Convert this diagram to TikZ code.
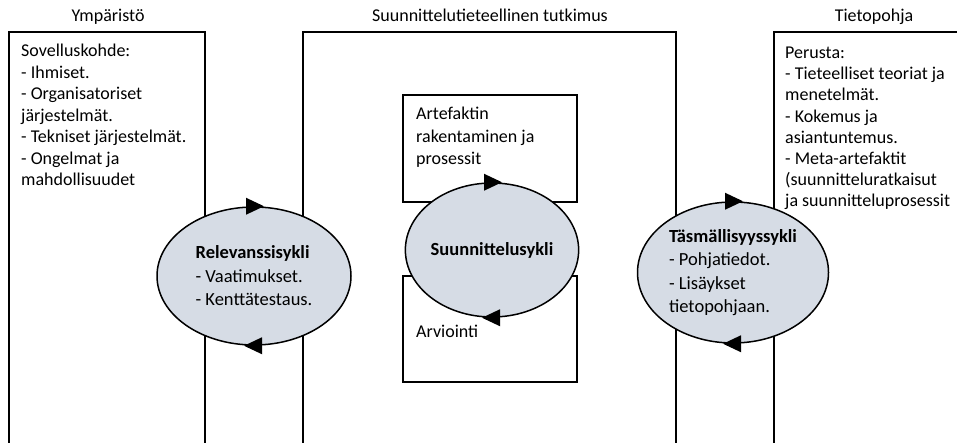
\documentclass[tikz,border=0pt]{standalone}
\usepackage{fontspec}
\setmainfont{Carlito}
\usetikzlibrary{shapes.geometric}
\definecolor{cyclefill}{HTML}{D6DCE5}
\begin{document}
\begin{tikzpicture}[x=1pt,y=-1pt,
  frame/.style={line width=2pt},
  txt/.style={inner sep=0pt, align=left, anchor=base west, font=\fontsize{18}{21.5}\selectfont},
  title/.style={inner sep=0pt, anchor=base, font=\fontsize{18}{21.5}\selectfont},
  cyc/.style={ellipse, draw, line width=1.5pt, fill=cyclefill, inner sep=0pt, align=left, font=\fontsize{18.5}{23.5}\selectfont},
  inbox/.style={draw, line width=2pt, inner sep=0pt},
  tipfill/.style={fill=black}
]
\useasboundingbox (0,0) rectangle (957,443);
% outer open frames
\draw[frame] (9,444) -- (9,32) -- (205,32) -- (205,444);
\draw[frame] (303,444) -- (303,32) -- (676,32) -- (676,444);
\draw[frame] (774,444) -- (774,32) -- (958,32);
% titles
\node[title] (t1) at (108,22) {Ympäristö};
\node[title] (t2) at (490,22) {Suunnittelutieteellinen tutkimus};
\node[title] (t3) at (874,22) {Tietopohja};
% box texts (base anchor = last line)
\node[txt] (lefttxt) at (21,186) {Sovelluskohde:\\- Ihmiset.\\- Organisatoriset\\järjestelmät.\\- Tekniset järjestelmät.\\- Ongelmat ja\\mahdollisuudet};
\node[txt, font=\fontsize{18}{21.2}\selectfont] (righttxt) at (785,207) {Perusta:\\- Tieteelliset teoriat ja\\menetelmät.\\- Kokemus ja\\asiantuntemus.\\- Meta-artefaktit\\(suunnitteluratkaisut\\ja suunnitteluprosessit};
% inner boxes
\node[inbox, minimum width=174, minimum height=107] (build) at (490,148.5) {};
\node[inbox, minimum width=174, minimum height=106] (eval) at (490,329) {};
\node[txt, font=\fontsize{18}{22.5}\selectfont] (buildtxt) at (416,165) {Artefaktin\\rakentaminen ja\\prosessit};
\node[txt] (evaltxt) at (416,337) {Arviointi};
% cycles
\node[cyc, minimum width=194, minimum height=138] (rel) at (254,276) {\textbf{Relevanssisykli}\\- Vaatimukset.\\- Kenttätestaus.};
\node[cyc, minimum width=130, minimum height=134] (des) at (492,250) {\textbf{Suunnittelusykli}};
\node[cyc, minimum width=191, minimum height=141] (rig) at (733,272.5) {\textbf{Täsmällisyyssykli}\\- Pohjatiedot.\\- Lisäykset\\tietopohjaan.};
% arrowheads
\foreach \n in {rel,des,rig}{
  \fill[tipfill] ([shift={(-8,-8.5)}]\n.north) -- ([shift={(-8,8.5)}]\n.north) -- ([shift={(10,0)}]\n.north) -- cycle;
  \fill[tipfill] ([shift={(8,-8.5)}]\n.south) -- ([shift={(8,8.5)}]\n.south) -- ([shift={(-10,0)}]\n.south) -- cycle;
}
\end{tikzpicture}
\end{document}
